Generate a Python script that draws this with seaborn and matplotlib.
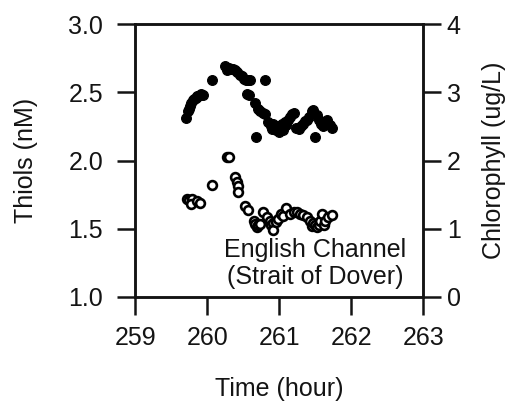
import matplotlib
matplotlib.use("Agg")
import matplotlib.pyplot as plt
import seaborn as sns
import pandas as pd

# Thiols (filled circles, left axis)
thiol_hour = [259.71, 259.73, 259.75, 259.76, 259.78, 259.80, 259.82, 259.84, 259.86, 259.88,
              259.90, 259.92, 259.94, 260.07, 260.25, 260.27, 260.30, 260.33, 260.36, 260.39,
              260.42, 260.45, 260.48, 260.51, 260.54, 260.57, 260.60, 260.56, 260.58, 260.68,
              260.81, 260.66, 260.70, 260.74, 260.77, 260.80, 260.85, 260.88, 260.90, 260.92,
              260.95, 260.97, 261.00, 261.02, 261.04, 261.06, 261.08, 261.10, 261.12, 261.15,
              261.18, 261.21, 261.24, 261.27, 261.30, 261.33, 261.36, 261.39, 261.42, 261.45,
              261.47, 261.50, 261.52, 261.55, 261.58, 261.61, 261.64, 261.67, 261.70, 261.73]
thiol_val = [2.31, 2.36, 2.38, 2.40, 2.42, 2.44, 2.45, 2.46, 2.47, 2.47,
             2.48, 2.49, 2.48, 2.59, 2.69, 2.66, 2.68, 2.67, 2.67, 2.66,
             2.65, 2.63, 2.62, 2.60, 2.59, 2.59, 2.59, 2.49, 2.48, 2.17,
             2.59, 2.42, 2.38, 2.36, 2.35, 2.34, 2.28, 2.25, 2.23, 2.27,
             2.22, 2.25, 2.21, 2.24, 2.27, 2.22, 2.28, 2.26, 2.30, 2.32,
             2.34, 2.35, 2.24, 2.23, 2.25, 2.27, 2.29, 2.30, 2.32, 2.36,
             2.37, 2.17, 2.33, 2.30, 2.27, 2.25, 2.28, 2.30, 2.26, 2.24]

# Chlorophyll (open circles, right axis)
chl_hour = [259.72, 259.75, 259.79, 259.77, 259.86, 259.90, 260.07, 260.27, 260.30, 260.39,
            260.42, 260.43, 260.43, 260.53, 260.57, 260.65, 260.67, 260.69, 260.70, 260.74,
            260.78, 260.83, 260.87, 260.88, 260.92, 260.92, 260.96, 260.99, 261.03, 261.06,
            261.10, 261.15, 261.20, 261.25, 261.29, 261.33, 261.38, 261.43, 261.45, 261.47,
            261.50, 261.52, 261.55, 261.57, 261.59, 261.62, 261.64, 261.68, 261.73]
chl_val = [1.44, 1.42, 1.44, 1.37, 1.40, 1.38, 1.64, 2.05, 2.05, 1.76,
           1.69, 1.62, 1.54, 1.34, 1.27, 1.12, 1.07, 1.03, 1.05, 1.07,
           1.25, 1.17, 1.12, 1.05, 1.08, 0.98, 1.10, 1.15, 1.22, 1.18,
           1.30, 1.22, 1.25, 1.24, 1.22, 1.20, 1.17, 1.12, 1.04, 1.08,
           1.06, 1.03, 1.05, 1.12, 1.22, 1.05, 1.12, 1.17, 1.20]

x_ticks = [259, 260, 261, 262, 263]
y_left_ticks = [1.0, 1.5, 2.0, 2.5, 3.0]
y_right_ticks = [0, 1, 2, 3, 4]

sns.set_theme(style="ticks")
plt.rcParams['font.family'] = ['Liberation Sans', 'DejaVu Sans']

fig = plt.figure(figsize=(5.08, 4.01), dpi=100)
ax = fig.add_axes([0.266, 0.2594, 0.567, 0.6806])
ax2 = ax.twinx()

txt = "#141414"
df_t = pd.DataFrame({"hour": thiol_hour, "val": thiol_val})
df_c = pd.DataFrame({"hour": chl_hour, "val": chl_val})

sns.scatterplot(data=df_t, x="hour", y="val", ax=ax, color="black", s=50,
                edgecolor="black", linewidth=0.8, zorder=3)
sns.scatterplot(data=df_c, x="hour", y="val", ax=ax2, facecolor="white", s=40,
                edgecolor="black", linewidth=1.9, zorder=3)

ax.set_xlim(259, 263)
ax.set_ylim(1.0, 3.0)
ax2.set_ylim(0, 4)
ax.set_xticks(x_ticks)
ax.set_xticklabels([str(t) for t in x_ticks])
ax.set_yticks(y_left_ticks)
ax.set_yticklabels([f"{t:.1f}" for t in y_left_ticks])
ax2.set_yticks(y_right_ticks)
ax2.set_yticklabels([str(t) for t in y_right_ticks])

fs = 18
ax.set_xlabel("Time (hour)", fontsize=fs, color=txt, labelpad=19)
ax.set_ylabel("Thiols (nM)", fontsize=fs, color=txt, labelpad=22)
ax2.set_ylabel("Chlorophyll (ug/L)", fontsize=fs, color=txt, labelpad=15)

ax.tick_params(axis="x", direction="out", length=13, width=1.8, pad=8,
               labelsize=fs, colors=txt)
ax.tick_params(axis="y", direction="out", length=13, width=1.8, pad=10,
               labelsize=fs, colors=txt)
ax2.tick_params(axis="y", direction="out", length=13, width=1.8, pad=4,
                labelsize=fs, colors=txt)

for a in (ax, ax2):
    for sp in a.spines.values():
        sp.set_visible(True)
        sp.set_linewidth(1.8)
        sp.set_color(txt)

ax.text(261.5, 1.245, "English Channel\n(Strait of Dover)", ha="center", va="center",
        fontsize=fs, color=txt, linespacing=1.15, zorder=5)

fig.savefig("out.png", dpi=100, facecolor="white")
